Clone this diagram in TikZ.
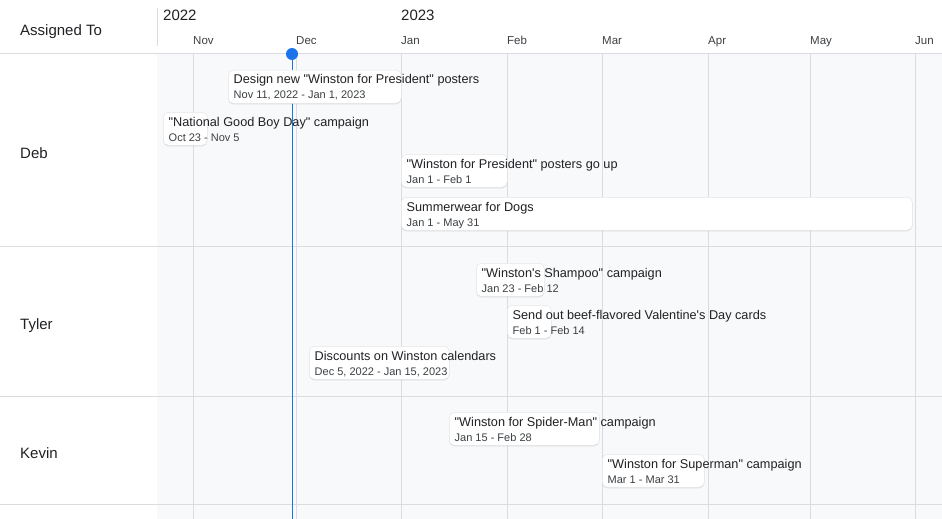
\documentclass[tikz,border=0pt]{standalone}
\usepackage{fontspec}
\newfontfamily\gsans{Liberation Sans}
\usetikzlibrary{shadows}
\definecolor{gridgray}{HTML}{DADCE0}
\definecolor{chartbg}{HTML}{F8F9FA}
\definecolor{todayblue}{HTML}{1A73E8}
\definecolor{inkdark}{HTML}{202124}
\definecolor{inkgray}{HTML}{3C4043}
\tikzstyle{gridline}=[draw=gridgray, line width=1pt]
\tikzstyle{header}=[anchor=base west, inner sep=0pt, text=inkdark, font=\gsans\fontsize{15}{17}\selectfont]
\tikzstyle{yearlabel}=[anchor=base west, inner sep=0pt, text=inkdark, font=\gsans\fontsize{15}{17}\selectfont]
\tikzstyle{monthlabel}=[anchor=base west, inner sep=0pt, text=inkgray, font=\gsans\fontsize{11.5}{13}\selectfont]
\tikzstyle{person}=[anchor=base west, inner sep=0pt, text=inkdark, font=\gsans\fontsize{15}{17}\selectfont]
\tikzstyle{today}=[circle, fill=todayblue, minimum size=12pt, inner sep=0pt]
\tikzstyle{todayline}=[draw=todayblue, line width=1pt]
\tikzstyle{card}=[rectangle, rounded corners=5pt, fill=white, draw=gridgray!70, line width=0.5pt,
  inner sep=0pt, minimum height=33pt, anchor=north west,
  drop shadow={shadow xshift=0pt, shadow yshift=-1pt, fill=black, opacity=0.12}]
\tikzstyle{tasktitle}=[anchor=base west, inner sep=0pt, text=inkdark, font=\gsans\fontsize{12.7}{15}\selectfont]
\tikzstyle{taskdates}=[anchor=base west, inner sep=0pt, text=inkgray, font=\gsans\fontsize{11}{13}\selectfont]

\begin{document}
\begin{tikzpicture}[x=1pt, y=-1pt]
	\useasboundingbox (0,0) rectangle (942,519);
	% chart area background
	\fill[chartbg] (157,54) rectangle (942,519);

	% header row
	\node[header] (assigned) at (20,35.5) {Assigned To};
	\draw[gridline] (157,8) -- (157,46);
	\node[yearlabel] (y2022) at (163,21) {2022};
	\node[yearlabel] (y2023) at (401,21) {2023};

	% month grid lines and labels
	\foreach \x/\name in {193/Nov, 296/Dec, 401/Jan, 507/Feb, 602/Mar, 708/Apr, 810/May, 915/Jun}
	{
		\draw[gridline] (\x,54) -- (\x,519);
		\node[monthlabel] (m\name) at (\x,44.5) {\name};
	}
	\foreach \y in {54, 246, 396, 504}
		\draw[gridline] (0,\y) -- (942,\y);

	% people
	\foreach \y/\name in {158.5/Deb, 329.3/Tyler, 458.3/Kevin}
		\node[person] (\name) at (20,\y) {\name};

	% today marker
	\node[today] (now) at (292,54) {};
	\coordinate (nowend) at (292,519);
	\path[todayline] (now) -- (nowend);

	% task cards
	\foreach \xa/\xb/\yt/\name/\title/\dates in {
		{228/401/70/design/{Design new "Winston for President" posters}/{Nov 11, 2022 - Jan 1, 2023}},
		{163/207/112/goodboy/{"National Good Boy Day" campaign}/{Oct 23 - Nov 5}},
		{401/507/154/postersup/{"Winston for President" posters go up}/{Jan 1 - Feb 1}},
		{401/912/197/summerwear/{Summerwear for Dogs}/{Jan 1 - May 31}},
		{476/544/263/shampoo/{"Winston's Shampoo" campaign}/{Jan 23 - Feb 12}},
		{507/551/305/valentine/{Send out beef-flavored Valentine's Day cards}/{Feb 1 - Feb 14}},
		{309/449/346/calendars/{Discounts on Winston calendars}/{Dec 5, 2022 - Jan 15, 2023}},
		{449/599/412/spiderman/{"Winston for Spider-Man" campaign}/{Jan 15 - Feb 28}},
		{602/704/454/superman/{"Winston for Superman" campaign}/{Mar 1 - Mar 31}}}
	{
		\node[card, minimum width={(\xb-\xa)*1pt}] (\name) at (\xa,\yt) {};
		\node[tasktitle] (\name-t) at (\xa+5.5,\yt+14) {\title};
		\node[taskdates] (\name-d) at (\xa+5.5,\yt+29) {\dates};
	}

\end{tikzpicture}
\end{document}
